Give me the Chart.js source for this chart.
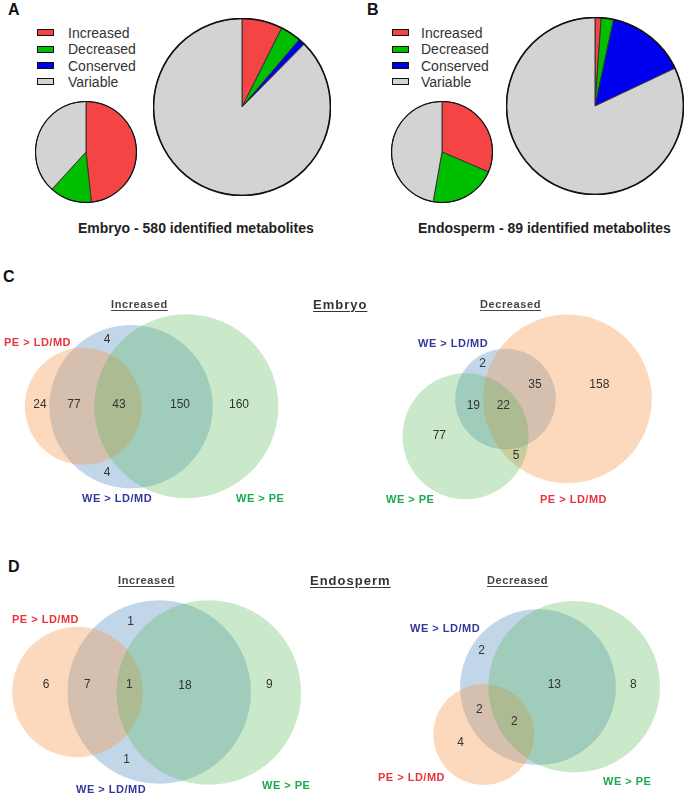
<!DOCTYPE html>
<html><head><meta charset="utf-8">
<script src="https://cdn.jsdelivr.net/npm/chart.js@4"></script>
<style>
html,body{margin:0;padding:0;background:#fff;}
body{width:685px;height:795px;overflow:hidden;position:relative;font-family:"Liberation Sans",Arial,sans-serif;}
.t{position:absolute;white-space:nowrap;line-height:1;}
.panel{font-size:16px;font-weight:bold;color:#111;}
.leg{font-size:14px;color:#333;}
.box{position:absolute;width:15px;height:5px;border:1.5px solid #111;}
.cap{font-size:14px;font-weight:bold;color:#222;}
.ttl{font-size:11px;font-weight:bold;color:#444;text-decoration:underline;letter-spacing:0.6px;text-underline-offset:2px;}
.big{font-size:13px;letter-spacing:1px;color:#333;}
.set{font-size:11px;font-weight:bold;letter-spacing:0.5px;}
.r{color:#e8323c}.b{color:#34389a}.g{color:#1aaa50}
canvas{position:absolute;}
</style></head>
<body>
<!-- Panel letters -->
<div class="t panel" style="left:8px;top:2px">A</div>
<div class="t panel" style="left:367px;top:2px">B</div>
<div class="t panel" style="left:3px;top:269px">C</div>
<div class="t panel" style="left:8px;top:559px">D</div>

<!-- Legends -->
<div class="box" style="left:37px;top:29px;background:#f44444"></div><div class="t leg" style="left:68px;top:26px">Increased</div>
<div class="box" style="left:37px;top:45.5px;background:#00bf00"></div><div class="t leg" style="left:68px;top:42.3px">Decreased</div>
<div class="box" style="left:37px;top:62px;background:#0000f0"></div><div class="t leg" style="left:68px;top:58.7px">Conserved</div>
<div class="box" style="left:37px;top:78px;background:#d3d3d3"></div><div class="t leg" style="left:68px;top:75px">Variable</div>

<div class="box" style="left:392px;top:29px;background:#f44444"></div><div class="t leg" style="left:421px;top:26px">Increased</div>
<div class="box" style="left:392px;top:45.5px;background:#00bf00"></div><div class="t leg" style="left:421px;top:42.3px">Decreased</div>
<div class="box" style="left:392px;top:62px;background:#0000f0"></div><div class="t leg" style="left:421px;top:58.7px">Conserved</div>
<div class="box" style="left:392px;top:78px;background:#d3d3d3"></div><div class="t leg" style="left:421px;top:75px">Variable</div>

<canvas id="pA1" width="102" height="102" style="left:35px;top:101px"></canvas>
<canvas id="pA2" width="178" height="178" style="left:153px;top:18px"></canvas>
<canvas id="pB1" width="102" height="102" style="left:391px;top:101px"></canvas>
<canvas id="pB2" width="178" height="178" style="left:506px;top:17px"></canvas>

<div class="t cap" style="left:78px;top:221px">Embryo - 580 identified metabolites</div>
<div class="t cap" style="left:418px;top:221px">Endosperm - 89 identified metabolites</div>

<canvas id="vC1" width="340" height="220" style="left:0;top:290px"></canvas>
<canvas id="vC2" width="345" height="220" style="left:340px;top:290px"></canvas>
<canvas id="vD1" width="340" height="225" style="left:0;top:570px"></canvas>
<canvas id="vD2" width="345" height="225" style="left:340px;top:570px"></canvas>

<div class="t ttl" style="left:111px;top:299px">Increased</div>
<div class="t ttl big" style="left:313px;top:297.5px">Embryo</div>
<div class="t ttl" style="left:480px;top:299px">Decreased</div>
<div class="t ttl" style="left:118px;top:575px">Increased</div>
<div class="t ttl big" style="left:310px;top:574px">Endosperm</div>
<div class="t ttl" style="left:487px;top:575px">Decreased</div>

<div class="t set r" style="left:4px;top:337px">PE &gt; LD/MD</div>
<div class="t set b" style="left:82px;top:493px">WE &gt; LD/MD</div>
<div class="t set g" style="left:236px;top:493px">WE &gt; PE</div>

<div class="t set b" style="left:418px;top:338px">WE &gt; LD/MD</div>
<div class="t set g" style="left:386px;top:493.5px">WE &gt; PE</div>
<div class="t set r" style="left:540px;top:493.5px">PE &gt; LD/MD</div>

<div class="t set r" style="left:12px;top:613.5px">PE &gt; LD/MD</div>
<div class="t set b" style="left:76px;top:784px">WE &gt; LD/MD</div>
<div class="t set g" style="left:262px;top:779.5px">WE &gt; PE</div>

<div class="t set b" style="left:410px;top:623px">WE &gt; LD/MD</div>
<div class="t set r" style="left:378px;top:772px">PE &gt; LD/MD</div>
<div class="t set g" style="left:603px;top:776px">WE &gt; PE</div>

<script>
// ---- Pie data ----
const sliceLabels = ['Increased', 'Decreased', 'Conserved', 'Variable'];
const embryoAll = [43, 22, 7, 508];      // 580 identified
const embryoSubset = [43, 12, 0, 34];
const endoAll = [1, 2, 13, 73];          // 89 identified
const endoSubset = [28, 19, 0, 42];
const sliceColors = ['#f44444', '#00bf00', '#0000f0', '#d3d3d3'];

// ---- Venn data (regions' counts) ----
const embIncCounts = [24, 77, 43, 150, 160, 4, 4];
const embDecCounts = [2, 35, 158, 19, 22, 77, 5];
const endIncCounts = [6, 7, 1, 18, 9, 1, 1];
const endDecCounts = [2, 13, 8, 2, 2, 4];

// ---- Venn layout (set order: WE>LD/MD, PE>LD/MD, WE>PE; drawn bottom to top) ----
const vennFill = ['rgba(70,130,190,0.33)', 'rgba(247,150,70,0.36)', 'rgba(80,180,80,0.30)'];
const embIncCircles = [[131, 116.7, 81.7], [83.3, 116.3, 58.5], [186.3, 116.3, 92]];
const embIncPos = [[40,115],[74,115],[119,115],[180,115],[239,115],[107,50],[107,183]];
const embDecCircles = [[165.5, 109, 50.3], [227.5, 108.8, 84.3], [125.5, 146.3, 63]];
const embDecPos = [[142.7,74],[195,94.3],[259.3,94.3],[133.3,116],[163.3,116],[99.3,146],[176,166]];
const endIncCircles = [[159.2, 122, 91.7], [77.5, 122, 65.3], [208.8, 122.5, 92.3]];
const endIncPos = [[46,114.3],[87.3,114.3],[129.3,114.3],[185,115.7],[269.3,114.3],[130.7,51.7],[126.7,189.3]];
const endDecCircles = [[198, 117.2, 77.9], [143.7, 164.5, 50.4], [234.2, 116.7, 85.8]];
const endDecPos = [[141.7,80.7],[214.3,114.3],[293.3,114.3],[139.3,139.3],[174.3,151.7],[120.7,172.7]];

function ringPlugin(w) {
  return { id: 'ring', afterDatasetsDraw(chart) {
    const a = chart.getDatasetMeta(0).data[0]; if (!a) return;
    const c = chart.ctx; c.save(); c.beginPath();
    c.arc(a.x, a.y, a.outerRadius, 0, Math.PI * 2);
    c.lineWidth = w; c.strokeStyle = '#111'; c.stroke(); c.restore();
  }};
}
function pie(id, values, ring) {
  new Chart(document.getElementById(id), {
    type: 'pie',
    data: { labels: sliceLabels, datasets: [{ data: values, backgroundColor: sliceColors, borderColor: '#333', borderWidth: 1 }] },
    options: { responsive: false, animation: false, events: [], layout: { padding: 0 },
      plugins: { legend: { display: false }, tooltip: { enabled: false } } },
    plugins: [ringPlugin(ring)]
  });
}
pie('pA1', embryoSubset, 1.1);
pie('pA2', embryoAll, 1.6);
pie('pB1', endoSubset, 1.1);
pie('pB2', endoAll, 1.6);

function countsPlugin(counts, pos) {
  return { id: 'counts', afterDatasetsDraw(chart) {
    const c = chart.ctx, sx = chart.scales.x, sy = chart.scales.y;
    c.save(); c.font = '12px "Liberation Sans", Arial, sans-serif'; c.fillStyle = '#333';
    c.textAlign = 'center'; c.textBaseline = 'middle';
    counts.forEach((n, i) => c.fillText(String(n), sx.getPixelForValue(pos[i][0]), sy.getPixelForValue(pos[i][1])));
    c.restore();
  }};
}
function radiusPx(ctx) {
  const d = ctx.raw; if (!d) return 0;
  const s = ctx.chart.scales.x;
  return Math.abs(s.getPixelForValue(d.r) - s.getPixelForValue(0));
}
function venn(id, circles, counts, pos) {
  const cv = document.getElementById(id);
  new Chart(cv, {
    type: 'scatter',
    data: { datasets: circles.map((c, i) => ({
      data: [{ x: c[0], y: c[1], r: c[2] }],
      order: circles.length - i,
      backgroundColor: vennFill[i], borderWidth: 0, clip: false,
      pointRadius: radiusPx, pointHoverRadius: radiusPx
    })) },
    options: { responsive: false, animation: false, events: [], layout: { padding: 0 },
      plugins: { legend: { display: false }, tooltip: { enabled: false } },
      scales: { x: { type: 'linear', min: 0, max: cv.width, display: false },
                y: { type: 'linear', min: 0, max: cv.height, reverse: true, display: false } } },
    plugins: [countsPlugin(counts, pos)]
  });
}
venn('vC1', embIncCircles, embIncCounts, embIncPos);
venn('vC2', embDecCircles, embDecCounts, embDecPos);
venn('vD1', endIncCircles, endIncCounts, endIncPos);
venn('vD2', endDecCircles, endDecCounts, endDecPos);
</script>
</body></html>
